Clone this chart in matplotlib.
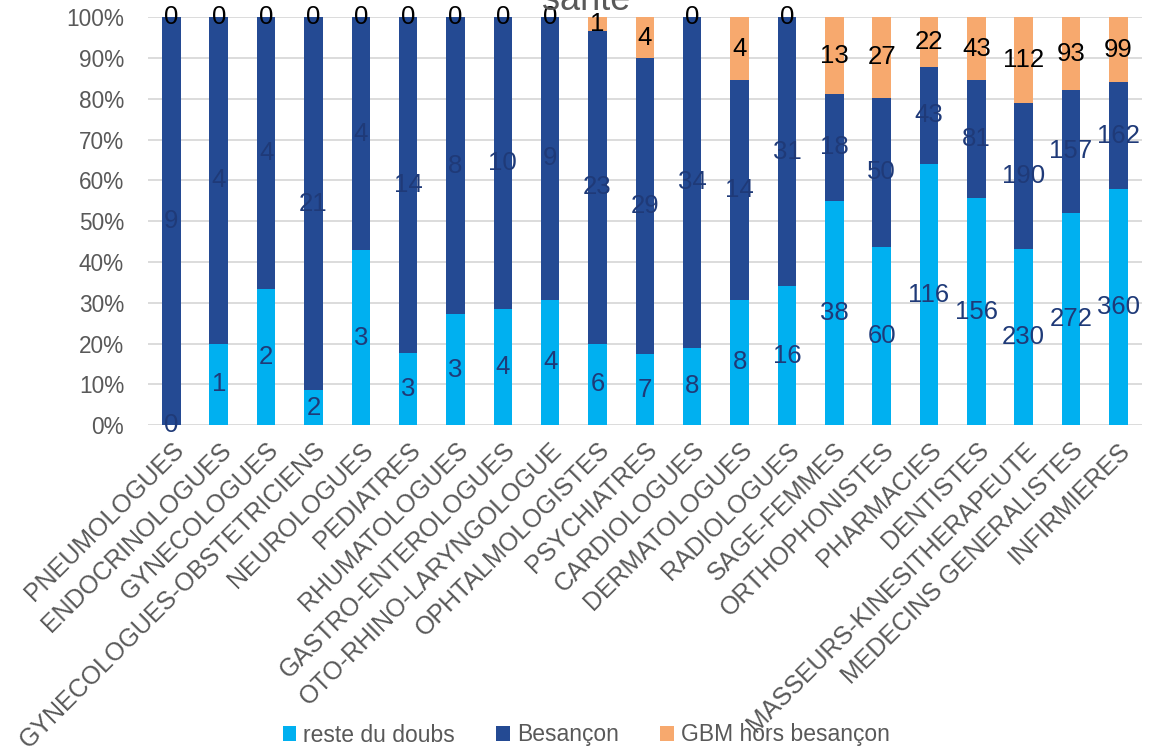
import numpy as np
import matplotlib.pyplot as plt
from matplotlib.ticker import PercentFormatter

plt.rcParams['font.family'] = ['Liberation Sans', 'DejaVu Sans']

categories = ['PNEUMOLOGUES', 'ENDOCRINOLOGUES', 'GYNECOLOGUES',
              'GYNECOLOGUES-OBSTETRICIENS', 'NEUROLOGUES', 'PEDIATRES',
              'RHUMATOLOGUES', 'GASTRO-ENTEROLOGUES', 'OTO-RHINO-LARYNGOLOGUE',
              'OPHTALMOLOGISTES', 'PSYCHIATRES', 'CARDIOLOGUES', 'DERMATOLOGUES',
              'RADIOLOGUES', 'SAGE-FEMMES', 'ORTHOPHONISTES', 'PHARMACIES',
              'DENTISTES', 'MASSEURS-KINESITHERAPEUTE', 'MEDECINS GENERALISTES',
              'INFIRMIERES']
reste = [0, 1, 2, 2, 3, 3, 3, 4, 4, 6, 7, 8, 8, 16, 38, 60, 116, 156, 230, 272, 360]
besancon = [9, 4, 4, 21, 4, 14, 8, 10, 9, 23, 29, 34, 14, 31, 18, 50, 43, 81, 190, 157, 162]
gbm = [0, 0, 0, 0, 0, 0, 0, 0, 0, 1, 4, 0, 4, 0, 13, 27, 22, 43, 112, 93, 99]

series = [('reste du doubs', reste, '#00B0F0', '#1F3A78'),
          ('Besançon', besancon, '#244A93', '#1F3A78'),
          ('GBM hors besançon', gbm, '#F7A96E', 'black')]

total = np.array(reste) + np.array(besancon) + np.array(gbm)
x = np.arange(len(categories))

fig = plt.figure(figsize=(11.63, 7.5), dpi=100)
ax = fig.add_axes([0.127, 0.433, 0.855, 0.544])

bottom = np.zeros(len(categories))
for name, vals, color, lcolor in series:
    vals = np.array(vals)
    share = vals / total * 100
    ax.bar(x, share, 0.39, bottom=bottom, color=color, label=name, zorder=2)
    for xi, b, s, v in zip(x, bottom, share, vals):
        ax.text(xi, b + s / 2, str(v), ha='center', va='center',
                fontsize=18.5, color=lcolor, zorder=3)
    bottom += share

ax.set_xlim(-0.5, len(categories) - 0.5)
ax.set_ylim(0, 100)
ax.set_yticks(np.arange(0, 101, 10))
ax.yaxis.set_major_formatter(PercentFormatter(decimals=0))
ax.grid(axis='y', color='#D9D9D9', linewidth=1.3, zorder=0)
ax.set_axisbelow(True)
for s in ax.spines.values():
    s.set_visible(False)
ax.tick_params(axis='y', length=0, labelsize=16.3, colors='#595959', pad=17)
ax.tick_params(axis='x', length=0, pad=9)
ax.set_xticks(x)
ax.set_xticklabels(categories, rotation=45, ha='right', va='top',
                   rotation_mode='anchor', fontsize=18, color='#595959')

fig.text(0.504, 0.986, 'santé', ha='center', va='baseline', fontsize=26, color='#595959')

fig.legend(loc='center', bbox_to_anchor=(0.504, 0.02), ncol=3, frameon=False,
           fontsize=16.5, handlelength=0.6, handleheight=0.6, handletextpad=0.3,
           columnspacing=1.8, labelcolor='#595959')

fig.savefig('out.png', dpi=100)
